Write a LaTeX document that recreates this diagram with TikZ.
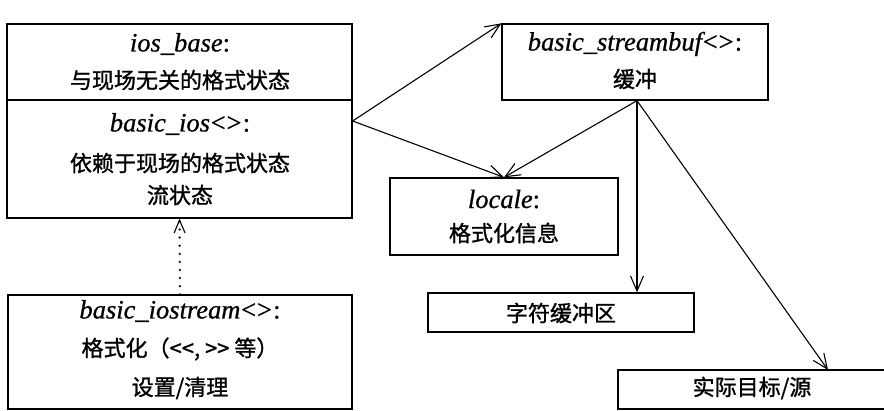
\documentclass[tikz,border=0pt]{standalone}
\usepackage{fontspec}
\setmainfont{Liberation Serif}
\newfontfamily\ttlfont{Liberation Serif}[FakeBold=0.8,ItalicFeatures={FakeBold=0.8}]
\newfontfamily\cjk{Noto Sans CJK SC}[FakeBold=1.2]
\usetikzlibrary{arrows.meta}
\newcommand{\ang}{\kern-1pt\textless\kern-2pt\textgreater}
\begin{document}
\begin{tikzpicture}[x=1pt,y=-1pt,
  box/.style={draw,line width=1.3pt,rectangle,inner sep=0pt},
  ttl/.style={font=\fontsize{26.5}{30}\ttlfont\itshape},
  cn/.style={font=\fontsize{22}{26}\selectfont\cjk},
  arr/.style={line width=1.1pt,-{Straight Barb[length=15pt,width=13pt,line width=1.1pt]}},
  dotarr/.style={line width=2.4pt,line cap=round,dash pattern=on 0.1pt off 8pt,
     -{Straight Barb[length=13pt,width=11pt,line width=1.1pt,line cap=butt]}}]
\useasboundingbox (0,0) rectangle (884,411);
% boxes
\node[box,minimum width=345pt,minimum height=194pt] (iosbox) at (179.5,121) {};
\draw[line width=1.3pt] (iosbox.west |- 0,100) -- (iosbox.east |- 0,100);
\node[box,minimum width=344pt,minimum height=114pt] (iostr) at (180,352) {};
\node[box,minimum width=266pt,minimum height=76pt] (sb) at (635,62) {};
\node[box,minimum width=228pt,minimum height=77pt] (loc) at (504,216.5) {};
\node[box,minimum width=266pt,minimum height=39pt] (cb) at (561,312.5) {};
\draw[line width=1.3pt] (884,370) -- (618,370) -- (618,409) -- (884,409);
\coordinate (tg) at (751,389.5);
\coordinate (tgtop) at (828,370);
% texts
\node[ttl] (t1) at (180,44) {ios\_base\upshape:};
\node[cn] (t2) at (180,80) {与现场无关的格式状态};
\node[ttl] (t3) at (180,124) {basic\_ios\ang\upshape:};
\node[cn] (t4) at (180,163) {依赖于现场的格式状态};
\node[cn] (t5) at (180,195) {流状态};
\node[ttl] (t6) at (180,311) {basic\_iostream\ang\upshape:};
\node[cn] (t7) at (180,349) {格式化（<<, >> 等）};
\node[cn] (t8) at (180,388) {设置/清理};
\node[ttl] (t9) at (635,44) {basic\_streambuf\ang\upshape:};
\node[cn] (t10) at (635,79) {缓冲};
\node[ttl] (t11) at (504,199) {locale\upshape:};
\node[cn] (t12) at (504,233) {格式化信息};
\node[cn] (t13) at (561,313) {字符缓冲区};
\node[cn] (t14) at (752,388) {实际目标/源};
% connectors
\draw[arr] (iosbox.east) -- (sb.north west);
\draw[arr] (iosbox.east) -- (loc.north);
\draw[arr] ([xshift=2pt]sb.south) -- (loc.north);
\draw[arr] ([xshift=2pt]sb.south) -- ([xshift=2pt]sb.south |- cb.north);
\draw[arr] ([xshift=2pt]sb.south) -- (tgtop);
\draw[dotarr] (iostr.north) -- (iosbox.south);
\end{tikzpicture}
\end{document}
